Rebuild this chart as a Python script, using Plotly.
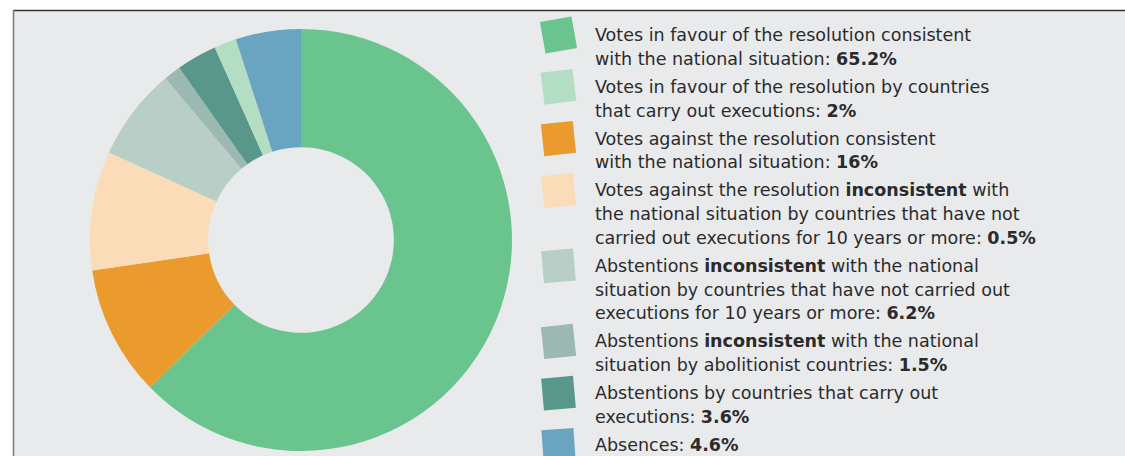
import math
import plotly.graph_objects as go

W, H = 1125, 456

# ---- data ----
slice_names = [
    "Votes in favour consistent",
    "Votes against consistent",
    "Votes against inconsistent (no executions 10y+)",
    "Abstentions inconsistent (no executions 10y+)",
    "Abstentions inconsistent (abolitionist)",
    "Abstentions by executing countries",
    "Votes in favour by executing countries",
    "Absences",
]
slice_values = [62.7, 10.0, 9.1, 7.1, 1.3, 3.1, 1.7, 5.0]

legend_names = [
    "Votes in favour consistent",
    "Votes in favour by executing countries",
    "Votes against consistent",
    "Votes against inconsistent (no executions 10y+)",
    "Abstentions inconsistent (no executions 10y+)",
    "Abstentions inconsistent (abolitionist)",
    "Abstentions by executing countries",
    "Absences",
]
legend_lines = [
    ["Votes in favour of the resolution consistent",
     "with the national situation: <b>65.2%</b>"],
    ["Votes in favour of the resolution by countries",
     "that carry out executions: <b>2%</b>"],
    ["Votes against the resolution consistent",
     "with the national situation: <b>16%</b>"],
    ["Votes against the resolution <b>inconsistent</b> with",
     "the national situation by countries that have not",
     "carried out executions for 10 years or more: <b>0.5%</b>"],
    ["Abstentions <b>inconsistent</b> with the national",
     "situation by countries that have not carried out",
     "executions for 10 years or more: <b>6.2%</b>"],
    ["Abstentions <b>inconsistent</b> with the national",
     "situation by abolitionist countries: <b>1.5%</b>"],
    ["Abstentions by countries that carry out",
     "executions: <b>3.6%</b>"],
    ["Absences: <b>4.6%</b>"],
]

# ---- styles ----
colors = {
    "Votes in favour consistent": "#6ac48e",
    "Votes in favour by executing countries": "#b4dec3",
    "Votes against consistent": "#eb9b2e",
    "Votes against inconsistent (no executions 10y+)": "#fbdcb9",
    "Abstentions inconsistent (no executions 10y+)": "#b8cec7",
    "Abstentions inconsistent (abolitionist)": "#9bb8b1",
    "Abstentions by executing countries": "#5a978b",
    "Absences": "#69a5c1",
}
tilts = [-10, -7, -6, -6, -5, -6, -5, -4]
TEXT_COLOR = "#2b2b2b"
FONT = "DejaVu Sans"
FONT_SIZE = 17.5


def px(x):
    return x / W


def py(y):
    return 1 - y / H


fig = go.Figure()

# donut
cx, cy, R = 301, 240, 211
fig.add_trace(go.Pie(
    labels=slice_names,
    values=slice_values,
    marker=dict(colors=[colors[n] for n in slice_names], line=dict(width=0)),
    hole=0.44,
    sort=False,
    direction="clockwise",
    rotation=0,
    textinfo="none",
    hoverinfo="skip",
    showlegend=False,
    domain=dict(x=[px(cx - R), px(cx + R)], y=[py(cy + R), py(cy - R)]),
))

shapes = []
# panel background
shapes.append(dict(type="rect", xref="paper", yref="paper",
                   x0=px(13), x1=px(W + 5), y0=py(H + 5), y1=py(10),
                   fillcolor="#e9eaec", line=dict(width=0), layer="below"))
shapes.append(dict(type="line", xref="paper", yref="paper",
                   x0=px(13), x1=px(W + 5), y0=py(10.5), y1=py(10.5),
                   line=dict(color="#333333", width=1.5), layer="below"))
shapes.append(dict(type="line", xref="paper", yref="paper",
                   x0=px(13.5), x1=px(13.5), y0=py(10), y1=py(H + 5),
                   line=dict(color="#7a7a7a", width=1.5), layer="below"))

annotations = []
LINE = 23.7
GAP = 4.4
y0 = 35
line_idx = 0
sq_cx = 558.5
half = 16
for i, (name, lines) in enumerate(zip(legend_names, legend_lines)):
    first_y = y0 + LINE * line_idx + GAP * i
    # tilted square
    a = math.radians(tilts[i])
    pts = []
    for dx, dy in [(-half, -half), (half, -half), (half, half), (-half, half)]:
        rx = dx * math.cos(a) - dy * math.sin(a)
        ry = dx * math.sin(a) + dy * math.cos(a)
        pts.append((sq_cx + rx, first_y + ry))
    path = "M " + " L ".join(f"{px(x):.5f},{py(y):.5f}" for x, y in pts) + " Z"
    shapes.append(dict(type="path", xref="paper", yref="paper", path=path,
                       fillcolor=colors[name], line=dict(width=0)))
    for j, t in enumerate(lines):
        yy = first_y + LINE * j
        annotations.append(dict(
            xref="paper", yref="paper", x=px(594), y=py(yy),
            xanchor="left", yanchor="middle", showarrow=False,
            text=t, align="left", borderpad=0,
            font=dict(family=FONT, size=FONT_SIZE, color=TEXT_COLOR),
        ))
    line_idx += len(lines)

fig.update_layout(
    width=W, height=H,
    margin=dict(l=0, r=0, t=0, b=0),
    paper_bgcolor="white",
    plot_bgcolor="white",
    shapes=shapes,
    annotations=annotations,
)

fig.write_html("out.html")
